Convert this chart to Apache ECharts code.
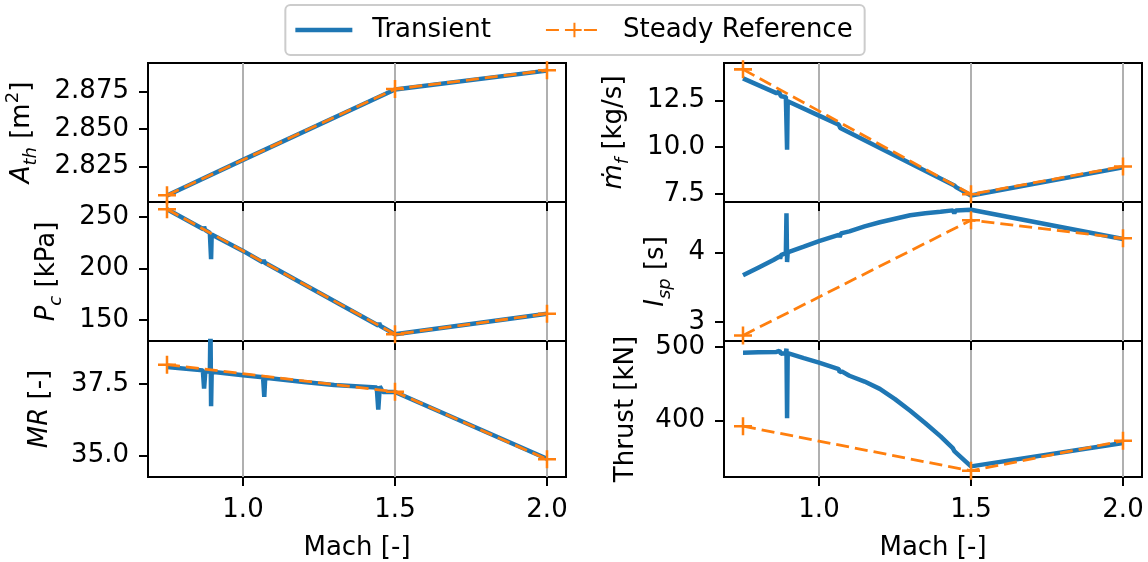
<!DOCTYPE html>
<html>
<head>
<meta charset="utf-8">
<title>Transient vs Steady Reference</title>
<script src="https://cdn.jsdelivr.net/npm/echarts@6/dist/echarts.min.js"></script>
<style>
    html, body {margin: 0; padding: 0; background: #fff;}
    #main {width: 1148px; height: 562px;}
</style>
</head>
<body>
<div id="main"></div>
<script>
    // steady reference points (Mach 0.75, 1.5, 2.0)
    var steadyMach = [0.75, 1.5, 2.0];
    var athSteady = [2.8057, 2.8768, 2.8893];
    var pcSteady = [257.5, 136, 156];
    var mrSteady = [38.18, 37.23, 34.86];
    var mdotSteady = [14.15, 7.48, 8.97];
    var ispSteady = [2.81, 4.46, 4.20];
    var thrustSteady = [392, 331, 372];

    // transient run, [Mach, value]
    var athTransient = [[0.75, 2.8055], [1.0, 2.8294], [1.5, 2.8765], [2.0, 2.8891]];
    var pcTransient = [[0.75, 257.5], [0.87, 238], [0.872, 240.5], [0.875, 237.5], [0.891, 234.5], [0.893, 234],
        [0.895, 209], [0.897, 233], [1.0, 217], [1.065, 206], [1.068, 208], [1.072, 205.5], [1.445, 144.5],
        [1.448, 147], [1.452, 144], [1.5, 136], [2.0, 156]];
    var mrTransient = [[0.75, 38.1], [0.868, 37.98], [0.872, 37.34], [0.876, 37.95], [0.891, 37.94],
        [0.893, 39.6], [0.895, 36.72], [0.897, 37.93], [1.0, 37.81], [1.066, 37.74], [1.07, 37.05],
        [1.073, 37.72], [1.2, 37.57], [1.3, 37.47], [1.44, 37.38], [1.445, 36.6], [1.45, 37.42],
        [1.46, 37.22], [1.5, 37.22], [2.0, 34.88]];
    var mdotTransient = [[0.75, 13.67], [0.86, 12.88], [0.868, 12.95], [0.875, 12.72], [0.891, 12.68],
        [0.895, 9.86], [0.897, 12.45], [1.0, 11.68], [1.065, 11.2], [1.07, 11.02], [1.075, 11.1],
        [1.445, 7.95], [1.448, 8.05], [1.452, 7.85], [1.5, 7.42], [2.0, 8.92]];
    var ispTransient = [[0.75, 3.67], [0.8, 3.78], [0.85, 3.89], [0.87, 3.94], [0.872, 3.91], [0.875, 3.96],
        [0.891, 3.99], [0.893, 4.56], [0.895, 3.86], [0.897, 4.0], [0.95, 4.08], [1.0, 4.16], [1.065, 4.25],
        [1.068, 4.22], [1.072, 4.27], [1.1, 4.3], [1.15, 4.37], [1.2, 4.43], [1.25, 4.48], [1.3, 4.53],
        [1.35, 4.56], [1.4, 4.58], [1.44, 4.6], [1.445, 4.56], [1.45, 4.6], [1.5, 4.61], [2.0, 4.19]];
    var thrustTransient = [[0.75, 492.5], [0.8, 493], [0.86, 493.5], [0.87, 495], [0.875, 491], [0.891, 492],
        [0.893, 498], [0.895, 403], [0.897, 492], [0.9, 490], [0.95, 485], [1.0, 479], [1.065, 470],
        [1.068, 466], [1.075, 467], [1.1, 461], [1.15, 453], [1.2, 443], [1.25, 429], [1.3, 413], [1.35, 396],
        [1.4, 378], [1.44, 362], [1.445, 358], [1.45, 357], [1.5, 337], [2.0, 369]];

    var machTicks = [1.0, 1.5, 2.0];

    var font = 'DejaVu Sans';
    var fs = 26;
    var blue = '#1f77b4', orange = '#ff7f0e';
    var plus = 'path://M-0.14,-1 L0.14,-1 L0.14,-0.14 L1,-0.14 L1,0.14 L0.14,0.14 L0.14,1 L-0.14,1 L-0.14,0.14 L-1,0.14 L-1,-0.14 L-0.14,-0.14 Z';

    var rich = {
        n: {fontFamily: font, fontSize: fs, lineHeight: 36, verticalAlign: 'middle', color: '#000'},
        it: {fontFamily: font, fontSize: fs, lineHeight: 36, verticalAlign: 'middle', fontStyle: 'italic', color: '#000'},
        sub: {fontFamily: font, fontSize: 18, lineHeight: 17, verticalAlign: 'bottom', fontStyle: 'italic', color: '#000'},
        sup: {fontFamily: font, fontSize: 18, lineHeight: 17, verticalAlign: 'top', color: '#000'}
    };

    // panel layout: left column then right column, top to bottom
    var panels = [
        {left: 148, top: 63, h: 139, name: '{it|A}{sub|th}{n| [m}{sup|2}{n|]}', gap: 108, min: 2.8012, max: 2.8942,
            ticks: [2.825, 2.85, 2.875], dec: 3, tr: athTransient, st: athSteady},
        {left: 148, top: 202, h: 139, name: '{it|P}{sub|c}{n| [kPa]}', gap: 83, min: 129.5, max: 264.5,
            ticks: [150, 200, 250], dec: 0, tr: pcTransient, st: pcSteady},
        {left: 148, top: 341, h: 140, name: '{it|MR}{n| [-]}', gap: 90, min: 34.24, max: 39.01,
            ticks: [35.0, 37.5], dec: 1, tr: mrTransient, st: mrSteady, bottom: true},
        {left: 724, top: 63, h: 139, name: '{it|ṁ}{sub|f}{n| [kg/s]}', gap: 92, min: 7.07, max: 14.49,
            ticks: [7.5, 10.0, 12.5], dec: 1, tr: mdotTransient, st: mdotSteady},
        {left: 724, top: 202, h: 139, name: '{it|I}{sub|sp}{n| [s]}', gap: 50, min: 2.73, max: 4.72,
            ticks: [3, 4], dec: 0, tr: ispTransient, st: ispSteady},
        {left: 724, top: 341, h: 140, name: '{n|Thrust [kN]}', gap: 80, min: 322.5, max: 508.5,
            ticks: [400, 500], dec: 0, tr: thrustTransient, st: thrustSteady, bottom: true}
    ];

    var grids = [], xAxes = [], yAxes = [], series = [];
    panels.forEach(function (p, i) {
        grids.push({left: p.left, top: p.top, width: 418, height: p.h, show: true,
            borderColor: '#000', borderWidth: 2, backgroundColor: 'transparent'});
        xAxes.push({
            type: 'value', gridIndex: i, min: 0.6875, max: 2.0625,
            name: p.bottom ? 'Mach [-]' : '', nameLocation: 'middle', nameGap: 58,
            nameTextStyle: {fontFamily: font, fontSize: fs, color: '#000'},
            axisLine: {show: false},
            axisTick: {show: true, length: 9, customValues: machTicks, lineStyle: {color: '#000', width: 2}},
            axisLabel: {show: !!p.bottom, customValues: machTicks, margin: 20, fontFamily: font, fontSize: fs, color: '#000',
                formatter: function (v) { return v.toFixed(1); }},
            splitLine: {show: true, lineStyle: {color: '#b0b0b0', width: 2}}
        });
        yAxes.push({
            type: 'value', gridIndex: i, min: p.min, max: p.max,
            name: p.name, nameLocation: 'middle', nameGap: p.gap, nameRotate: 90,
            nameTextStyle: {rich: rich},
            axisLine: {show: false},
            axisTick: {show: true, length: 9, customValues: p.ticks, lineStyle: {color: '#000', width: 2}},
            axisLabel: {customValues: p.ticks, margin: 19, fontFamily: font, fontSize: fs, color: '#000',
                formatter: (function (d) { return function (v) { return v.toFixed(d); }; })(p.dec)},
            splitLine: {show: false}
        });
        series.push({
            name: 'Transient', type: 'line', xAxisIndex: i, yAxisIndex: i,
            data: p.tr, showSymbol: false, symbol: 'none', clip: true,
            lineStyle: {color: blue, width: 4.5}, itemStyle: {color: blue}, z: 3
        });
        series.push({
            name: 'Steady Reference', type: 'line', xAxisIndex: i, yAxisIndex: i,
            data: steadyMach.map(function (m, k) { return [m, p.st[k]]; }),
            symbol: plus, symbolSize: 18, showSymbol: true, clip: false,
            lineStyle: {color: orange, width: 2.8, type: [13, 6]}, itemStyle: {color: orange}, z: 4
        });
    });

    var myChart = echarts.init(document.getElementById('main'));
    var option = {
        backgroundColor: '#fff',
        animation: false,
        legend: {
            top: 5, left: 'center',
            data: [
                {name: 'Transient', icon: 'path://M0,0 L57,0 L57,4.5 L0,4.5 Z'},
                {name: 'Steady Reference'}
            ],
            itemWidth: 57, itemHeight: 18, itemGap: 54,
            padding: [12, 12, 12, 10],
            borderColor: '#cccccc', borderWidth: 2, borderRadius: 5,
            textStyle: {fontFamily: font, fontSize: fs, color: '#000', padding: [0, 0, 0, 15]}
        },
        grid: grids,
        xAxis: xAxes,
        yAxis: yAxes,
        series: series
    };
    myChart.setOption(option);
</script>
</body>
</html>
